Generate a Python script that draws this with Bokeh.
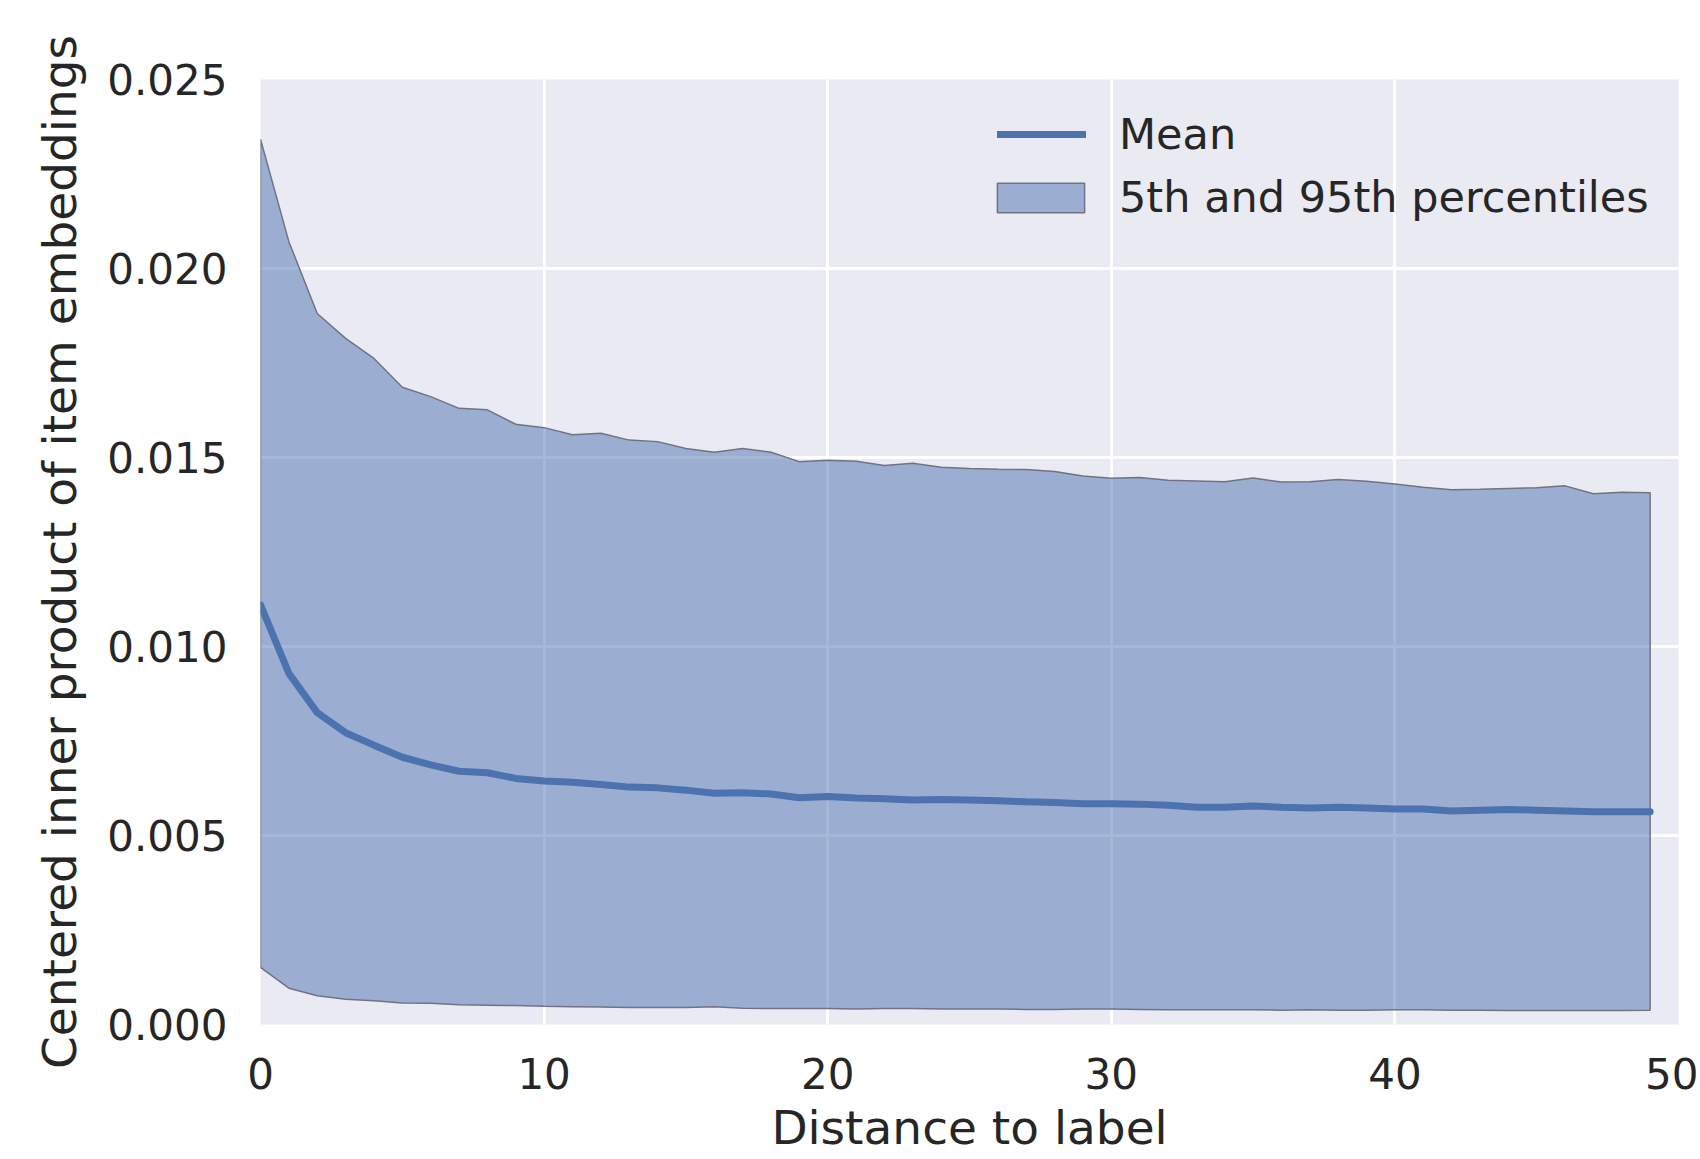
from bokeh.plotting import figure
from bokeh.models import Range1d, Legend, LegendItem, FixedTicker
from bokeh.embed import file_html
from bokeh.resources import INLINE

distance = list(range(50))
upper = [0.02342, 0.02071, 0.01881, 0.01815, 0.01762, 0.01686, 0.01661, 0.01630, 0.01626, 0.01588,
         0.01579, 0.01560, 0.01564, 0.01546, 0.01542, 0.01524, 0.01514, 0.01524, 0.01514, 0.01489,
         0.01493, 0.01490, 0.01479, 0.01485, 0.01474, 0.01471, 0.01469, 0.01468, 0.01463, 0.01451,
         0.01445, 0.01447, 0.01440, 0.01438, 0.01436, 0.01446, 0.01435, 0.01436, 0.01442, 0.01437,
         0.01430, 0.01421, 0.01415, 0.01416, 0.01418, 0.01420, 0.01425, 0.01404, 0.01408, 0.01407]
mean = [0.01110, 0.00929, 0.00825, 0.00772, 0.00739, 0.00707, 0.00687, 0.00670, 0.00666, 0.00651,
        0.00644, 0.00641, 0.00635, 0.00628, 0.00626, 0.00620, 0.00612, 0.00613, 0.00610, 0.00600,
        0.00603, 0.00599, 0.00597, 0.00594, 0.00595, 0.00594, 0.00592, 0.00589, 0.00587, 0.00584,
        0.00584, 0.00583, 0.00580, 0.00575, 0.00575, 0.00578, 0.00575, 0.00573, 0.00575, 0.00573,
        0.00570, 0.00570, 0.00565, 0.00567, 0.00569, 0.00567, 0.00565, 0.00563, 0.00563, 0.00563]
lower = [0.00151, 0.00096, 0.00076, 0.00067, 0.00063, 0.00057, 0.00056, 0.00052, 0.00051, 0.00050,
         0.00048, 0.00047, 0.00046, 0.00045, 0.00045, 0.00045, 0.00047, 0.00043, 0.00042, 0.00042,
         0.00042, 0.00041, 0.00042, 0.00042, 0.00041, 0.00041, 0.00041, 0.00040, 0.00040, 0.00041,
         0.00041, 0.00040, 0.00039, 0.00039, 0.00039, 0.00039, 0.00038, 0.00039, 0.00038, 0.00038,
         0.00039, 0.00039, 0.00038, 0.00038, 0.00037, 0.00037, 0.00037, 0.00037, 0.00037, 0.00038]

x_ticks = [0, 10, 20, 30, 40, 50]
y_ticks = [0.0, 0.005, 0.010, 0.015, 0.020, 0.025]
x_title = "Distance to label"
y_title = "Centered inner product of item embeddings"

FONT = "DejaVu Sans"
TEXT = "#262626"
BLUE = "#4C72B0"

p = figure(width=1698, height=1158, output_backend="svg", toolbar_location=None,
           x_range=Range1d(0, 50), y_range=Range1d(0, 0.025),
           min_border_left=260, min_border_right=20, min_border_top=79, min_border_bottom=134)
p.background_fill_color = "#EAEAF2"
p.border_fill_color = "white"
p.outline_line_color = None

for g in (p.xgrid[0], p.ygrid[0]):
    g.grid_line_color = "white"
    g.grid_line_width = 3

p.xaxis.ticker = FixedTicker(ticks=x_ticks)
p.yaxis.ticker = FixedTicker(ticks=y_ticks)
p.xgrid[0].ticker = FixedTicker(ticks=x_ticks)
p.ygrid[0].ticker = FixedTicker(ticks=y_ticks)
p.xaxis.major_label_overrides = {t: str(t) for t in x_ticks}
p.yaxis.major_label_overrides = {t: f"{t:.3f}" for t in y_ticks}

for ax in (p.xaxis[0], p.yaxis[0]):
    ax.axis_line_color = None
    ax.major_tick_line_color = None
    ax.minor_tick_line_color = None
    ax.major_label_text_font = FONT
    ax.major_label_text_font_size = "42px"
    ax.major_label_text_color = TEXT
    ax.axis_label_text_font = FONT
    ax.axis_label_text_font_size = "47px"
    ax.axis_label_text_font_style = "normal"
    ax.axis_label_text_color = TEXT

p.xaxis.axis_label = x_title
p.yaxis.axis_label = y_title
p.xaxis.major_label_standoff = 27
p.yaxis.major_label_standoff = 27
p.xaxis.axis_label_standoff = 8
p.yaxis.axis_label_standoff = 17
p.xaxis.axis_label_text_baseline = "middle"

band_x = distance + distance[::-1]
band_y = upper + lower[::-1]
band = p.patch(band_x, band_y, fill_color=BLUE, fill_alpha=0.5,
               line_color="#6F7485", line_width=1.5)
mline = p.line(distance, mean, line_color=BLUE, line_width=7, line_cap="round")


def style_legend(lg):
    lg.background_fill_alpha = 0
    lg.border_line_color = None
    lg.label_text_font = FONT
    lg.label_text_font_size = "43px"
    lg.label_text_color = TEXT
    lg.padding = 0
    lg.margin = 0
    lg.spacing = 0


legend_mean = Legend(items=[LegendItem(label="Mean", renderers=[mline])], location=(737, 865))
style_legend(legend_mean)
legend_mean.glyph_width = 89
legend_mean.glyph_height = 30
legend_mean.label_standoff = 33

legend_band = Legend(items=[LegendItem(label="5th and 95th percentiles", renderers=[band])],
                     location=(726, 802))
style_legend(legend_band)
legend_band.glyph_width = 109
legend_band.glyph_height = 37
legend_band.label_standoff = 24

p.add_layout(legend_mean)
p.add_layout(legend_band)

open("out.html", "w").write(file_html(p, INLINE))
